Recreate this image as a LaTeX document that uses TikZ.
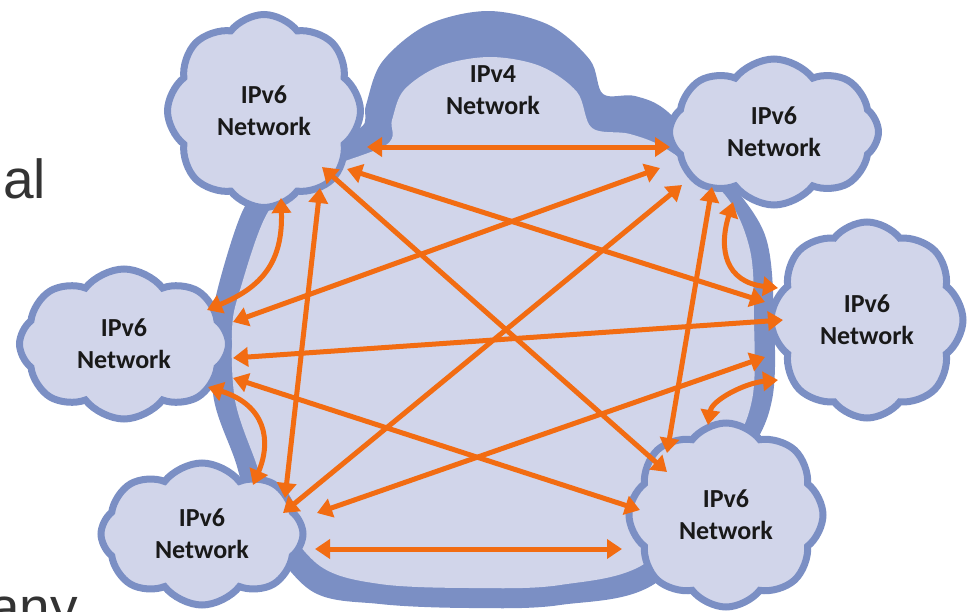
\documentclass[tikz,border=0pt]{standalone}
\usepackage{fontspec}
\setmainfont{Carlito}
\newfontfamily\slidefont{Liberation Sans}
\usetikzlibrary{shapes.symbols,arrows.meta}
\definecolor{netfill}{HTML}{D1D5EA}
\definecolor{netline}{HTML}{7B8FC4}
\definecolor{linkc}{HTML}{F26C12}
\definecolor{slidetext}{HTML}{333333}

\begin{document}
\begin{tikzpicture}[x=1pt,y=-1pt,
  netlabel/.style={align=center, font=\bfseries\fontsize{26}{32}\selectfont, text=black!90},
  v6/.style={cloud, cloud puffs=8, cloud puff arc=105, draw=netline, fill=netfill,
             line width=7pt, inner sep=0pt, netlabel},
  link/.style={draw=linkc, line width=5pt,
               {Triangle[length=15pt,width=19pt]}-{Triangle[length=15pt,width=19pt]}},
]
\useasboundingbox (0,0) rectangle (967,611);
\clip (0,0) rectangle (967,611);

% fragments of the slide text
\node[anchor=base west, inner sep=0pt, font=\slidefont\fontsize{55}{60}\selectfont, text=slidetext] (txta) at (3,198) {al};
\node[anchor=base west, inner sep=0pt, font=\slidefont\fontsize{55}{60}\selectfont, text=slidetext] (txtb) at (-11,626) {any};

% the IPv4 core: thick rim and inner area
\fill[netline] plot[smooth cycle, tension=0.55] coordinates {
  (300,150) (360,128) (366,105) (382,62) (427,25) (488,11) (549,25) (590,60) (603,94)
  (635,96) (668,112) (720,170) (765,235) (774,320) (772,400) (745,460)
  (660,580) (560,605) (470,608) (380,604) (310,590) (255,520) (235,460)
  (214,400) (211,330) (220,280) (243,210) (270,175)};
\fill[netfill] plot[smooth cycle, tension=0.55] coordinates {
  (310,175) (386,145) (392,120) (404,90) (440,66) (490,57) (540,66) (577,92) (592,128)
  (630,134) (668,150) (725,195) (750,250) (754,320) (752,400) (725,460)
  (650,560) (560,585) (470,588) (380,584) (320,566) (275,510) (255,460)
  (235,400) (232,330) (240,290) (268,212)};
\node[netlabel] (v4) at (493,90) {IPv4\\Network};

% the IPv6 networks
\node[v6, minimum width=193pt, minimum height=193pt, aspect=1.0] (tl) at (264,111) {IPv6\\Network};
\node[v6, minimum width=209pt, minimum height=146pt, aspect=1.43] (tr) at (774,132) {IPv6\\Network};
\node[v6, minimum width=192pt, minimum height=196pt, aspect=0.98] (rt) at (867,320) {IPv6\\Network};
\node[v6, minimum width=209pt, minimum height=150pt, aspect=1.39] (lt) at (124,344) {IPv6\\Network};
\node[v6, minimum width=202pt, minimum height=142pt, aspect=1.42] (bl) at (202,534) {IPv6\\Network};
\node[v6, minimum width=194pt, minimum height=184pt, aspect=1.05] (br) at (726,515) {IPv6\\Network};

% connector end points on the cloud rims
\coordinate (tl-tr) at (367,147);  \coordinate (tr-tl) at (670,147);
\coordinate (bl-br) at (315,549);  \coordinate (br-bl) at (622,549);
\coordinate (tl-lt) at (281,198);  \coordinate (lt-tl) at (207,310);
\coordinate (lt-bl) at (208,387);  \coordinate (bl-lt) at (253,485);
\coordinate (tr-rt) at (733,202);  \coordinate (rt-tr) at (778,288);
\coordinate (rt-br) at (778,380);  \coordinate (br-rt) at (708,425);
\coordinate (tl-bl) at (320,188);  \coordinate (bl-tl) at (285,498);
\coordinate (tr-br) at (712,187);  \coordinate (br-tr) at (667,453);
\coordinate (tl-br) at (322,167);  \coordinate (br-tl) at (667,472);
\coordinate (tl-rt) at (347,169);  \coordinate (rt-tl) at (765,302);
\coordinate (tr-lt) at (660,168);  \coordinate (lt-tr) at (233,322);
\coordinate (tr-bl) at (682,185);  \coordinate (bl-tr) at (283,513);
\coordinate (lt-rt) at (233,358);  \coordinate (rt-lt) at (783,320);
\coordinate (lt-br) at (233,378);  \coordinate (br-lt) at (640,510);
\coordinate (rt-bl) at (765,357);  \coordinate (bl-rt) at (317,513);

% full mesh of tunnels
\draw[link] (tl-tr) -- (tr-tl);
\draw[link] (bl-br) -- (br-bl);
\draw[link] (tl-lt) .. controls (283,262) and (262,287) .. (lt-tl);
\draw[link] (lt-bl) .. controls (265,405) and (272,440) .. (bl-lt);
\draw[link] (tr-rt) .. controls (718,250) and (726,282) .. (rt-tr);
\draw[link] (rt-br) .. controls (745,383) and (712,400) .. (br-rt);
\draw[link] (tl-bl) -- (bl-tl);
\draw[link] (tr-br) -- (br-tr);
\draw[link] (tl-br) -- (br-tl);
\draw[link] (tl-rt) -- (rt-tl);
\draw[link] (tr-lt) -- (lt-tr);
\draw[link] (tr-bl) -- (bl-tr);
\draw[link] (lt-rt) -- (rt-lt);
\draw[link] (lt-br) -- (br-lt);
\draw[link] (rt-bl) -- (bl-rt);
\end{tikzpicture}
\end{document}
